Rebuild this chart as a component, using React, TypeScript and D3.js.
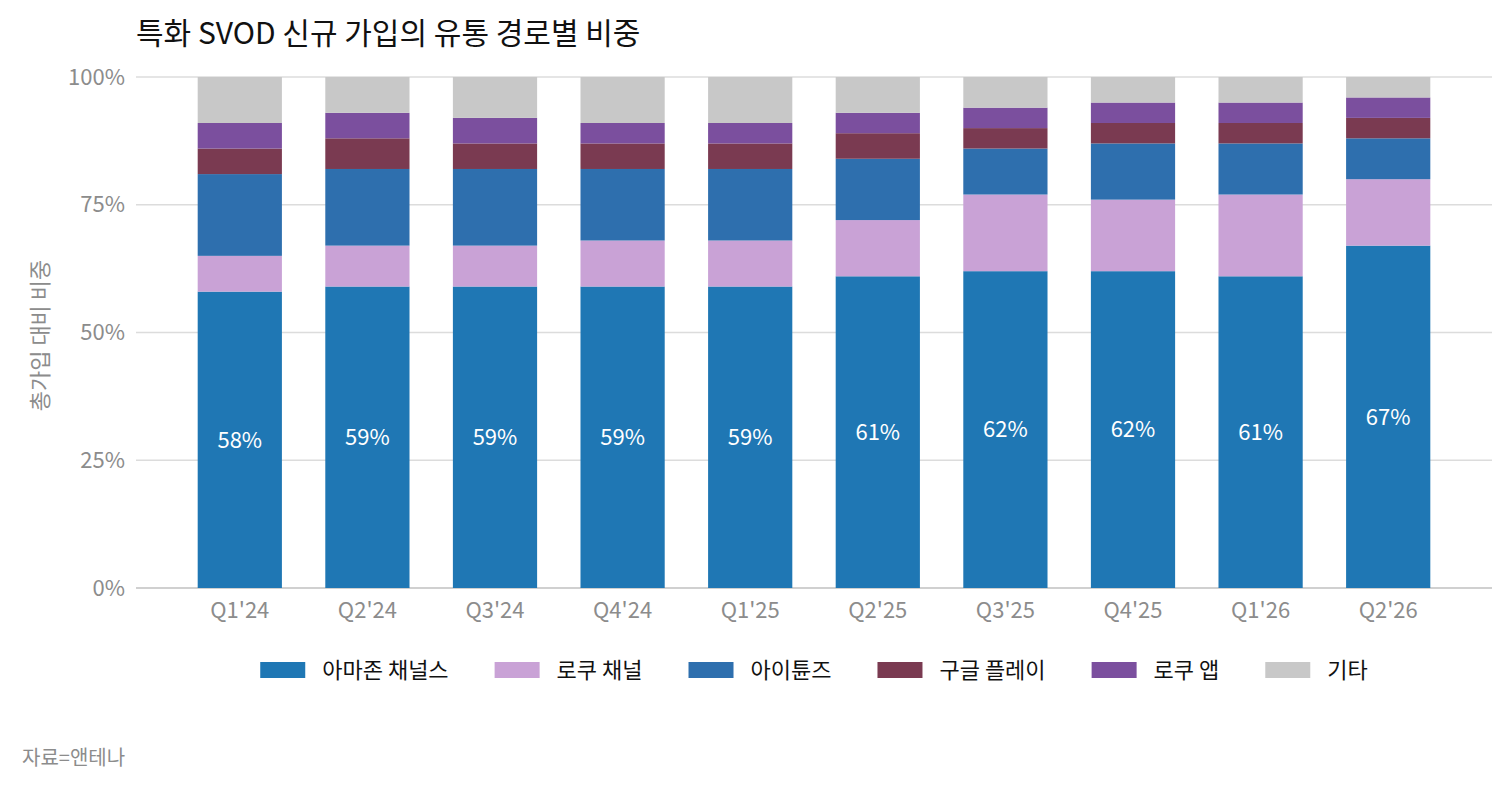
import React, { useEffect, useRef } from 'react';
import * as d3 from 'd3';

const quarters = ["Q1'24", "Q2'24", "Q3'24", "Q4'24", "Q1'25", "Q2'25", "Q3'25", "Q4'25", "Q1'26", "Q2'26"];
const seriesNames = ['아마존 채널스', '로쿠 채널', '아이튠즈', '구글 플레이', '로쿠 앱', '기타'];
const amazon = [58, 59, 59, 59, 59, 61, 62, 62, 61, 67];
const rokuChannel = [7, 8, 8, 9, 9, 11, 15, 14, 16, 13];
const itunes = [16, 15, 15, 14, 14, 12, 9, 11, 10, 8];
const googlePlay = [5, 6, 5, 5, 5, 5, 4, 4, 4, 4];
const rokuApp = [5, 5, 5, 4, 4, 4, 4, 4, 4, 4];
const other = [9, 7, 8, 9, 9, 7, 6, 5, 5, 4];
const yTicks = [0, 25, 50, 75, 100];

const colors = ['#1f77b4', '#c9a2d6', '#2e6fae', '#7a3a51', '#7b4f9e', '#c8c8c8'];
const FONT = "'Noto Sans CJK KR', 'Noto Sans', sans-serif";

const App = () => {
  const ref = useRef<SVGSVGElement>(null);

  useEffect(() => {
    document.body.style.margin = '0';
    if (!ref.current) return;
    const svg = d3.select(ref.current);
    svg.selectAll('*').remove();

    const left = 136, right = 1492, top = 77, bottom = 588;
    const values = [amazon, rokuChannel, itunes, googlePlay, rokuApp, other];
    const rows = quarters.map((q, i) => {
      const r: any = { q };
      seriesNames.forEach((s, j) => (r[s] = values[j][i]));
      return r;
    });
    const stacked = d3.stack<any>().keys(seriesNames)(rows);

    const x = d3.scaleBand().domain(quarters).range([176, 1452]).paddingInner(0.34).paddingOuter(0.17);
    const y = d3.scaleLinear().domain([0, 100]).range([bottom, top]);

    // title
    svg.append('text')
      .attr('x', left).attr('y', 44)
      .attr('font-size', 30).attr('fill', '#111')
      .text('특화 SVOD 신규 가입의 유통 경로별 비중');

    // grid
    svg.append('g').selectAll('line').data(yTicks).enter().append('line')
      .attr('x1', left).attr('x2', right)
      .attr('y1', d => y(d)).attr('y2', d => y(d))
      .attr('stroke', d => (d === 0 ? '#d0d0d0' : '#dcdcdc'))
      .attr('stroke-width', d => (d === 0 ? 2 : 1.3));

    svg.append('g').selectAll('text').data(yTicks).enter().append('text')
      .attr('x', 125).attr('y', d => y(d))
      .attr('dy', '0.35em').attr('text-anchor', 'end')
      .attr('font-size', 22).attr('fill', '#8c8c8c')
      .text(d => `${d}%`);

    svg.append('text')
      .attr('transform', `translate(48,${(top + bottom) / 2 + 3}) rotate(-90)`)
      .attr('text-anchor', 'middle')
      .attr('font-size', 22).attr('fill', '#8c8c8c')
      .text('총가입 대비 비중');

    // bars
    svg.append('g').selectAll('g').data(stacked).enter().append('g')
      .attr('fill', (_d, i) => colors[i])
      .selectAll('rect').data(d => d).enter().append('rect')
      .attr('x', d => x(d.data.q)!)
      .attr('width', x.bandwidth())
      .attr('y', d => y(d[1]))
      .attr('height', d => y(d[0]) - y(d[1]));

    // labels on amazon segment
    svg.append('g').selectAll('text').data(stacked[0]).enter().append('text')
      .attr('x', d => x(d.data.q)! + x.bandwidth() / 2)
      .attr('y', d => (y(d[0]) + y(d[1])) / 2)
      .attr('dy', '0.35em').attr('text-anchor', 'middle')
      .attr('font-size', 22).attr('fill', '#fff')
      .text(d => `${d[1] - d[0]}%`);

    // x labels
    svg.append('g').selectAll('text').data(quarters).enter().append('text')
      .attr('x', d => x(d)! + x.bandwidth() / 2)
      .attr('y', 610).attr('dy', '0.35em').attr('text-anchor', 'middle')
      .attr('font-size', 22).attr('fill', '#8c8c8c')
      .text(d => d);

    // legend
    const legend = svg.append('g');
    const items = legend.selectAll('g').data(seriesNames).enter().append('g');
    items.append('rect').attr('width', 45).attr('height', 16).attr('y', -8)
      .attr('fill', (_d, i) => colors[i]);
    items.append('text').attr('x', 62).attr('dy', '0.35em')
      .attr('font-size', 22).attr('fill', '#111')
      .text(d => d);
    let offset = 0;
    const offsets: number[] = [];
    items.each(function () {
      offsets.push(offset);
      const t = (this as SVGGElement).querySelector('text') as SVGTextElement;
      offset += 62 + t.getComputedTextLength() + 46;
    });
    const total = offset - 46;
    const start = (left + right) / 2 - total / 2;
    items.attr('transform', (_d, i) => `translate(${start + offsets[i]},670)`);

    // source
    svg.append('text')
      .attr('x', 22).attr('y', 765)
      .attr('font-size', 20).attr('fill', '#8c8c8c')
      .text('자료=앤테나');
  }, []);

  return <svg ref={ref} width={1511} height={791} style={{ display: 'block', fontFamily: FONT }} />;
};

export default App;
